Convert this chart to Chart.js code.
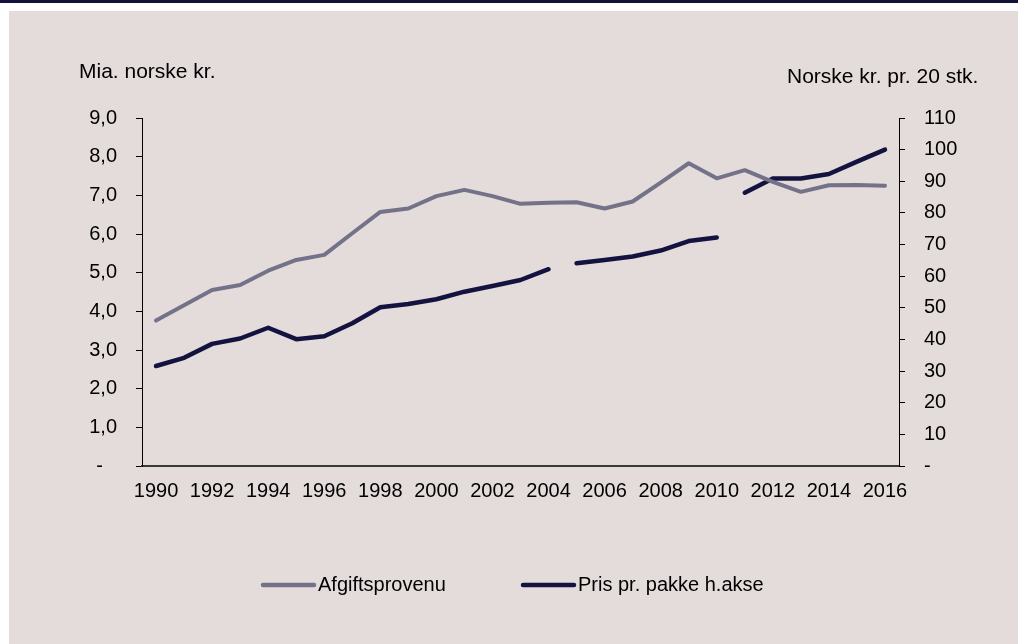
<!DOCTYPE html>
<html>
<head>
<meta charset="utf-8">
<script src="https://cdn.jsdelivr.net/npm/chart.js@4.4.1/dist/chart.umd.min.js"></script>
<style>
html,body{margin:0;padding:0;background:#ffffff;}
#wrap{position:relative;width:1018px;height:644px;}
</style>
</head>
<body>
<div id="wrap"><canvas id="c" width="1018" height="644"></canvas></div>
<script>
// ---- data ----
const years = ['1990','1991','1992','1993','1994','1995','1996','1997','1998','1999','2000','2001','2002','2003','2004','2005','2006','2007','2008','2009','2010','2011','2012','2013','2014','2015','2016'];
const afgiftsprovenu = [3.76,4.16,4.55,4.68,5.05,5.33,5.46,6.02,6.57,6.66,6.98,7.14,6.98,6.78,6.81,6.82,6.66,6.84,7.33,7.83,7.44,7.65,7.35,7.09,7.26,7.27,7.25];
const prisPrPakke = [31.6,34.2,38.6,40.3,43.7,40.1,41.0,45.1,50.2,51.2,52.7,55.1,56.9,58.8,62.2,64.1,65.1,66.2,68.1,71.1,72.2,86.4,90.9,90.9,92.3,96.2,100.0];
const prisBreaksAfter = ['2004','2010'];
const seriesLabels = ['Afgiftsprovenu','Pris pr. pakke h.akse'];
const leftAxisTitle = 'Mia. norske kr.';
const rightAxisTitle = 'Norske kr. pr. 20 stk.';
const leftTickMax = 9;
const rightTickMax = 110;

const FONT = '"Liberation Sans", Arial, Helvetica, sans-serif';
const GRAY = '#737289';
const NAVY = '#141340';
const BEIGE = '#E3DCDA';

const bgPlugin = {
  id: 'bg',
  beforeDraw(chart) {
    const ctx = chart.ctx;
    ctx.save();
    ctx.fillStyle = '#ffffff';
    ctx.fillRect(0, 0, chart.width, chart.height);
    ctx.fillStyle = '#12123A';
    ctx.fillRect(0, 0, chart.width, 3);
    ctx.fillStyle = BEIGE;
    ctx.fillRect(9, 11, chart.width - 9, chart.height - 11);
    ctx.restore();
  }
};

const titlesPlugin = {
  id: 'titles',
  afterDraw(chart) {
    const ctx = chart.ctx;
    ctx.save();
    ctx.fillStyle = '#000';
    ctx.font = '21px ' + FONT;
    ctx.textBaseline = 'middle';
    ctx.textAlign = 'left';
    ctx.fillText(leftAxisTitle, 79, 72);
    ctx.fillText(rightAxisTitle, 787, 77);
    ctx.restore();
  }
};

const legendPlugin = {
  id: 'customLegend',
  afterDraw(chart) {
    const ctx = chart.ctx;
    const items = [
      {ds: chart.data.datasets[0], x: 263},
      {ds: chart.data.datasets[1], x: 523}
    ];
    ctx.save();
    ctx.font = '20px ' + FONT;
    ctx.textBaseline = 'middle';
    ctx.textAlign = 'left';
    items.forEach(it => {
      ctx.strokeStyle = it.ds.borderColor;
      ctx.lineWidth = 4.5;
      ctx.lineCap = 'round';
      ctx.beginPath();
      ctx.moveTo(it.x, 585);
      ctx.lineTo(it.x + 51, 585);
      ctx.stroke();
      ctx.fillStyle = '#000';
      ctx.fillText(it.ds.label, it.x + 55, 585);
    });
    ctx.restore();
  }
};

new Chart(document.getElementById('c'), {
  type: 'line',
  data: {
    labels: years,
    datasets: [
      {
        label: seriesLabels[0],
        data: afgiftsprovenu,
        yAxisID: 'yL',
        borderColor: GRAY,
        backgroundColor: GRAY,
        borderWidth: 4,
        pointRadius: 0,
        tension: 0,
        borderJoinStyle: 'round',
        borderCapStyle: 'round'
      },
      {
        label: seriesLabels[1],
        data: prisPrPakke,
        yAxisID: 'yR',
        borderColor: NAVY,
        backgroundColor: NAVY,
        borderWidth: 4.5,
        pointRadius: 0,
        tension: 0,
        borderJoinStyle: 'round',
        borderCapStyle: 'round',
        segment: {
          borderColor: (c) => prisBreaksAfter.includes(years[c.p0DataIndex]) ? 'rgba(0,0,0,0)' : NAVY
        }
      }
    ]
  },
  options: {
    responsive: false,
    animation: false,
    layout: {padding: {top: 118, left: 0, right: 0, bottom: 0}},
    plugins: {legend: {display: false}, tooltip: {enabled: false}},
    scales: {
      x: {
        offset: true,
        grid: {display: true, drawOnChartArea: false, drawTicks: false},
        border: {display: true, color: '#3a3a3a', width: 2},
        ticks: {
          autoSkip: false, maxRotation: 0, minRotation: 0, padding: 13,
          color: '#000', font: {family: FONT, size: 20},
          callback: function(v, i) { return i % 2 === 0 ? this.getLabelForValue(v) : ''; }
        },
        afterFit: (s) => { s.height = 178; }
      },
      yL: {
        position: 'left',
        min: 0, max: leftTickMax,
        grid: {display: true, drawOnChartArea: false, drawTicks: true, tickLength: 6, tickColor: '#000', tickWidth: 1},
        border: {display: true, color: '#000', width: 1},
        ticks: {
          stepSize: 1, padding: 19, color: '#000', font: {family: FONT, size: 20},
          callback: (v) => v === 0 ? '-\u2002\u2009' : v.toFixed(1).replace('.', ',')
        },
        afterFit: (s) => { s.width = 142; }
      },
      yR: {
        position: 'right',
        min: 0, max: rightTickMax,
        grid: {display: true, drawOnChartArea: false, drawTicks: true, tickLength: 6, tickColor: '#000', tickWidth: 1},
        border: {display: true, color: '#000', width: 1},
        ticks: {
          stepSize: 10, padding: 19, color: '#000', font: {family: FONT, size: 20},
          callback: (v) => v === 0 ? '-' : String(v)
        },
        afterFit: (s) => { s.width = 119; }
      }
    }
  },
  plugins: [bgPlugin, titlesPlugin, legendPlugin]
});
</script>
</body>
</html>
